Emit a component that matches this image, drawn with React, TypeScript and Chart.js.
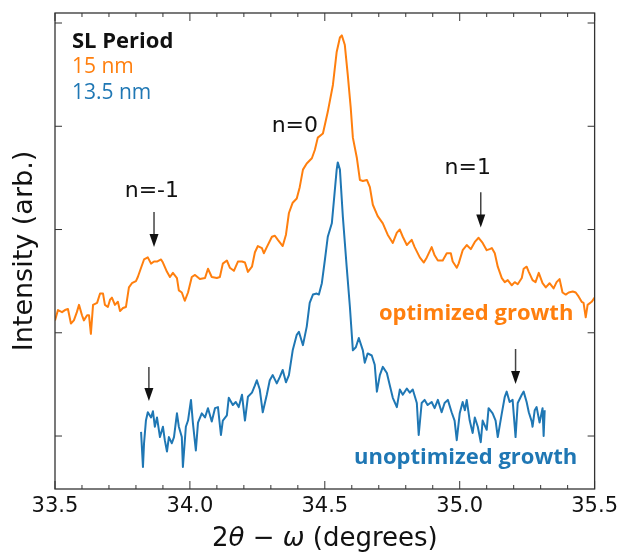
import React, { useEffect, useRef } from "react";
import { Chart, registerables } from "chart.js";

Chart.register(...registerables);

// ---- data (2θ−ω in degrees, intensity in arbitrary offset units) ----
const orangeX = [
  33.500, 33.511, 33.526, 33.537, 33.548, 33.559, 33.570, 33.581, 33.589, 33.600,
  33.607, 33.619, 33.626, 33.633, 33.641, 33.656, 33.667, 33.678, 33.685, 33.696,
  33.704, 33.711, 33.722, 33.733, 33.741, 33.752, 33.763, 33.774, 33.785, 33.800,
  33.807, 33.819, 33.830, 33.844, 33.856, 33.867, 33.878, 33.893, 33.900, 33.915,
  33.926, 33.937, 33.952, 33.959, 33.970, 33.981, 33.993, 34.007, 34.019, 34.037,
  34.056, 34.067, 34.081, 34.100, 34.111, 34.122, 34.137, 34.148, 34.163, 34.178,
  34.193, 34.204, 34.215, 34.230, 34.241, 34.252, 34.267, 34.274, 34.285, 34.304,
  34.315, 34.326, 34.344, 34.356, 34.367, 34.381, 34.396, 34.407, 34.419, 34.433,
  34.452, 34.463, 34.474, 34.493, 34.511, 34.530, 34.544, 34.556, 34.563, 34.574,
  34.585, 34.596, 34.604, 34.619, 34.630, 34.641, 34.656, 34.667, 34.678, 34.696,
  34.715, 34.733, 34.752, 34.767, 34.778, 34.789, 34.804, 34.822, 34.833, 34.852,
  34.867, 34.878, 34.896, 34.907, 34.919, 34.937, 34.952, 34.967, 34.974, 34.989,
  34.996, 35.011, 35.026, 35.041, 35.056, 35.070, 35.085, 35.100, 35.111, 35.119,
  35.130, 35.141, 35.156, 35.167, 35.178, 35.193, 35.204, 35.215, 35.230, 35.237,
  35.248, 35.256, 35.270, 35.281, 35.293, 35.307, 35.319, 35.333, 35.348, 35.359,
  35.370, 35.381, 35.393, 35.404, 35.419, 35.430, 35.441, 35.452, 35.459, 35.467,
  35.474, 35.489, 35.500,
];
const orangeY = [
  1.12, 1.22, 1.20, 1.22, 1.23, 1.09, 1.12, 1.20, 1.27, 1.17,
  1.12, 1.17, 1.17, 0.99, 1.27, 1.29, 1.38, 1.38, 1.27, 1.25,
  1.32, 1.34, 1.27, 1.30, 1.21, 1.24, 1.25, 1.44, 1.48, 1.50,
  1.54, 1.63, 1.71, 1.73, 1.67, 1.69, 1.69, 1.71, 1.68, 1.59,
  1.54, 1.58, 1.53, 1.41, 1.39, 1.31, 1.39, 1.54, 1.56, 1.52,
  1.53, 1.62, 1.54, 1.53, 1.54, 1.67, 1.70, 1.63, 1.60, 1.69,
  1.69, 1.68, 1.59, 1.64, 1.78, 1.84, 1.82, 1.77, 1.83, 1.93,
  1.94, 1.90, 1.84, 1.95, 2.16, 2.26, 2.30, 2.41, 2.58, 2.64,
  2.69, 2.77, 2.89, 2.93, 3.14, 3.40, 3.72, 3.86, 3.88, 3.79,
  3.50, 3.18, 2.89, 2.69, 2.48, 2.47, 2.48, 2.41, 2.24, 2.13,
  2.06, 1.95, 1.87, 1.97, 2.00, 1.93, 1.85, 1.90, 1.83, 1.73,
  1.68, 1.73, 1.83, 1.75, 1.70, 1.70, 1.77, 1.77, 1.69, 1.63,
  1.67, 1.80, 1.85, 1.81, 1.88, 1.92, 1.87, 1.80, 1.81, 1.82,
  1.77, 1.64, 1.53, 1.49, 1.51, 1.46, 1.49, 1.47, 1.53, 1.62,
  1.64, 1.59, 1.51, 1.49, 1.58, 1.48, 1.44, 1.48, 1.43, 1.49,
  1.52, 1.39, 1.37, 1.39, 1.40, 1.39, 1.35, 1.30, 1.29, 1.15,
  1.27, 1.30, 1.34,
];

const blueX = [
  33.819, 33.826, 33.830, 33.837, 33.844, 33.856, 33.863, 33.870, 33.878, 33.889,
  33.900, 33.907, 33.915, 33.922, 33.933, 33.941, 33.952, 33.959, 33.970, 33.974,
  33.985, 33.993, 34.004, 34.011, 34.022, 34.030, 34.044, 34.056, 34.067, 34.081,
  34.093, 34.104, 34.115, 34.122, 34.137, 34.144, 34.159, 34.170, 34.181, 34.193,
  34.204, 34.215, 34.230, 34.241, 34.248, 34.259, 34.270, 34.285, 34.296, 34.307,
  34.322, 34.333, 34.344, 34.356, 34.367, 34.381, 34.396, 34.404, 34.419, 34.433,
  34.444, 34.456, 34.470, 34.478, 34.489, 34.500, 34.511, 34.526, 34.533, 34.544,
  34.548, 34.556, 34.567, 34.581, 34.593, 34.604, 34.615, 34.626, 34.641, 34.648,
  34.659, 34.674, 34.685, 34.693, 34.704, 34.715, 34.730, 34.741, 34.752, 34.767,
  34.778, 34.789, 34.804, 34.815, 34.826, 34.841, 34.848, 34.859, 34.870, 34.881,
  34.896, 34.907, 34.919, 34.933, 34.944, 34.956, 34.970, 34.981, 34.989, 35.000,
  35.011, 35.019, 35.026, 35.037, 35.048, 35.056, 35.067, 35.078, 35.085, 35.100,
  35.107, 35.122, 35.133, 35.141, 35.156, 35.167, 35.174, 35.185, 35.196, 35.207,
  35.215, 35.230, 35.237, 35.248, 35.256, 35.267, 35.270, 35.278, 35.285, 35.296,
  35.307, 35.311, 35.315,
];
const blueY = [
  0.04, -0.30, -0.07, 0.15, 0.23, 0.18, 0.24, 0.09, 0.18, -0.01,
  0.09, -0.04, -0.15, -0.01, -0.07, -0.01, 0.22, 0.09, -0.01, -0.30,
  0.09, 0.15, 0.35, 0.13, -0.14, 0.13, 0.22, 0.18, 0.27, 0.14,
  0.27, 0.28, 0.01, 0.15, 0.20, 0.37, 0.30, 0.33, 0.28, 0.40,
  0.15, 0.38, 0.42, 0.49, 0.54, 0.45, 0.23, 0.40, 0.54, 0.59,
  0.51, 0.57, 0.64, 0.52, 0.59, 0.83, 0.98, 1.01, 0.88, 1.06,
  1.29, 1.37, 1.38, 1.37, 1.48, 1.70, 1.93, 2.06, 2.26, 2.58,
  2.65, 2.58, 2.12, 1.64, 1.25, 0.83, 0.86, 0.95, 0.83, 0.71,
  0.80, 0.78, 0.69, 0.43, 0.59, 0.67, 0.61, 0.49, 0.37, 0.28,
  0.45, 0.40, 0.46, 0.42, 0.45, 0.32, 0.01, 0.32, 0.35, 0.30,
  0.33, 0.27, 0.35, 0.23, 0.32, 0.35, 0.23, 0.15, -0.04, 0.22,
  0.33, 0.25, 0.35, 0.15, 0.03, 0.18, 0.09, -0.06, 0.15, 0.06,
  0.27, 0.22, 0.15, -0.01, 0.22, 0.38, 0.43, 0.33, 0.35, -0.01,
  0.32, 0.40, 0.43, 0.33, 0.23, 0.14, 0.09, 0.25, 0.28, 0.13,
  0.27, 0.00, 0.25,
];

// ---- axes ----
const xMin = 33.5;
const xMax = 35.5;
const yMin = -0.513;
const yMax = 4.097;
const xMajorTicks = [33.5, 34.0, 34.5, 35.0, 35.5];
const xMinorTicks = [33.6, 33.7, 33.8, 33.9, 34.1, 34.2, 34.3, 34.4, 34.6, 34.7, 34.8, 34.9, 35.1, 35.2, 35.3, 35.4];
const yTicks = [0, 1, 2, 3, 4];
// x title pieces: [text, italic]
const xTitleParts: [string, boolean][] = [
  ["2", false],
  ["θ", true],
  [" − ", false],
  ["ω", true],
  [" (degrees)", false],
];
const yTitle = "Intensity (arb.)";

// ---- annotations ----
const legendTitle = "SL Period";
const seriesNames = ["15 nm", "13.5 nm"];
const legendX = 33.563;
const legendBaselines = [3.758, 3.516, 3.264];
const curveLabels = ["optimized growth", "unoptimized growth"];
const curveLabelX = [35.061, 35.022];
const curveLabelY = [1.123, -0.271];
const orderLabels = ["n=-1", "n=0", "n=1"];
const orderLabelX = [33.859, 34.389, 35.030];
const orderLabelY = [2.315, 2.944, 2.538];
const arrowX = [33.867, 35.078, 33.848, 35.207];
const arrowTop = [2.17, 2.36, 0.668, 0.843];
const arrowTip = [1.83, 2.02, 0.339, 0.504];

const ORANGE = "#ff7f0e";
const BLUE = "#1f77b4";

function pts(xs: number[], ys: number[]) {
  const n = Math.min(xs.length, ys.length);
  const out: { x: number; y: number }[] = [];
  for (let i = 0; i < n; i++) out.push({ x: xs[i], y: ys[i] });
  return out;
}

const overlay = {
  id: "overlay",
  afterDraw(chart: any) {
    const { ctx, chartArea: a } = chart;
    const xs = chart.scales.x;
    const ys = chart.scales.y;
    ctx.save();
    const line = (x1: number, y1: number, x2: number, y2: number) => {
      ctx.beginPath();
      ctx.moveTo(x1, y1);
      ctx.lineTo(x2, y2);
      ctx.stroke();
    };
    // frame
    ctx.strokeStyle = "#333";
    ctx.lineWidth = 1.3;
    ctx.strokeRect(a.left, a.top, a.right - a.left, a.bottom - a.top);
    // ticks (inward)
    ctx.lineWidth = 1;
    xMajorTicks.forEach((v) => {
      const p = xs.getPixelForValue(v);
      line(p, a.bottom, p, a.bottom - 8);
      line(p, a.top, p, a.top + 8);
    });
    xMinorTicks.forEach((v) => {
      const p = xs.getPixelForValue(v);
      line(p, a.bottom, p, a.bottom - 4);
      line(p, a.top, p, a.top + 4);
    });
    yTicks.forEach((v) => {
      const p = ys.getPixelForValue(v);
      line(a.left, p, a.left + 7, p);
      line(a.right, p, a.right - 7, p);
    });

    // x-axis title with italic symbols
    ctx.fillStyle = "#111";
    ctx.textBaseline = "alphabetic";
    ctx.textAlign = "left";
    const fontFor = (it: boolean) => (it ? 'oblique 26px "DejaVu Sans"' : '26px "DejaVu Sans"');
    let total = 0;
    xTitleParts.forEach(([t, it]) => {
      ctx.font = fontFor(it);
      total += ctx.measureText(t).width;
    });
    let tx = (a.left + a.right) / 2 - total / 2;
    const tBase = xs.bottom - 8;
    xTitleParts.forEach(([t, it]) => {
      ctx.font = fontFor(it);
      ctx.fillText(t, tx, tBase);
      tx += ctx.measureText(t).width;
    });

    // legend block
    const lx = xs.getPixelForValue(legendX);
    ctx.font = 'bold 22px "Open Sans"';
    ctx.fillStyle = "#111";
    ctx.fillText(legendTitle, lx, ys.getPixelForValue(legendBaselines[0]));
    ctx.font = '21px "Open Sans"';
    ctx.fillStyle = ORANGE;
    ctx.fillText(seriesNames[0], lx, ys.getPixelForValue(legendBaselines[1]));
    ctx.fillStyle = BLUE;
    ctx.fillText(seriesNames[1], lx, ys.getPixelForValue(legendBaselines[2]));

    // curve labels
    ctx.textAlign = "center";
    ctx.font = 'bold 22px "Open Sans"';
    ctx.fillStyle = ORANGE;
    ctx.fillText(curveLabels[0], xs.getPixelForValue(curveLabelX[0]), ys.getPixelForValue(curveLabelY[0]));
    ctx.fillStyle = BLUE;
    ctx.fillText(curveLabels[1], xs.getPixelForValue(curveLabelX[1]), ys.getPixelForValue(curveLabelY[1]));

    // order labels
    ctx.font = '22px "DejaVu Sans"';
    ctx.fillStyle = "#111";
    orderLabels.forEach((t, i) => {
      ctx.fillText(t, xs.getPixelForValue(orderLabelX[i]), ys.getPixelForValue(orderLabelY[i]));
    });

    // arrows
    arrowX.forEach((v, i) => {
      const px = xs.getPixelForValue(v);
      const y1 = ys.getPixelForValue(arrowTop[i]);
      const y2 = ys.getPixelForValue(arrowTip[i]);
      const head = 13;
      ctx.strokeStyle = "#444";
      ctx.lineWidth = 1.5;
      line(px, y1, px, y2 - head + 2);
      ctx.fillStyle = "#111";
      ctx.beginPath();
      ctx.moveTo(px - 4.5, y2 - head);
      ctx.lineTo(px + 4.5, y2 - head);
      ctx.lineTo(px, y2);
      ctx.closePath();
      ctx.fill();
    });
    ctx.restore();
  },
};

export default function App() {
  const ref = useRef<HTMLCanvasElement | null>(null);
  useEffect(() => {
    if (!ref.current) return;
    const chart = new Chart(ref.current, {
      type: "line",
      data: {
        datasets: [
          {
            label: seriesNames[0],
            data: pts(orangeX, orangeY),
            borderColor: ORANGE,
            borderWidth: 2,
            pointRadius: 0,
            tension: 0,
            borderJoinStyle: "round",
          },
          {
            label: seriesNames[1],
            data: pts(blueX, blueY),
            borderColor: BLUE,
            borderWidth: 2,
            pointRadius: 0,
            tension: 0,
            borderJoinStyle: "round",
          },
        ],
      },
      options: {
        responsive: false,
        animation: false,
        events: [],
        layout: { padding: { left: 0, right: 28, top: 13, bottom: 0 } },
        plugins: { legend: { display: false }, tooltip: { enabled: false } },
        scales: {
          x: {
            type: "linear",
            min: xMin,
            max: xMax,
            afterFit: (s: any) => {
              s.height = 65;
            },
            afterBuildTicks: (s: any) => {
              s.ticks = xMajorTicks.map((v) => ({ value: v }));
            },
            grid: { display: false, drawTicks: false },
            border: { display: false },
            ticks: {
              padding: 5,
              color: "#111",
              font: { family: "DejaVu Sans", size: 21 },
              maxRotation: 0,
              callback: (v: any) => Number(v).toFixed(1),
            },
            title: { display: false },
          },
          y: {
            type: "linear",
            min: yMin,
            max: yMax,
            afterFit: (s: any) => {
              s.width = 55;
            },
            grid: { display: false, drawTicks: false },
            border: { display: false },
            ticks: { display: false },
            title: {
              display: true,
              text: yTitle,
              color: "#111",
              font: { family: "DejaVu Sans", size: 27 },
              padding: { top: 9, bottom: 0 },
            },
          },
        },
      },
      plugins: [overlay],
    });
    return () => chart.destroy();
  }, []);
  return (
    <div style={{ position: "fixed", left: 0, top: 0, width: 623, height: 554, background: "#fff" }}>
      <canvas ref={ref} width={623} height={554} style={{ display: "block" }} />
    </div>
  );
}
